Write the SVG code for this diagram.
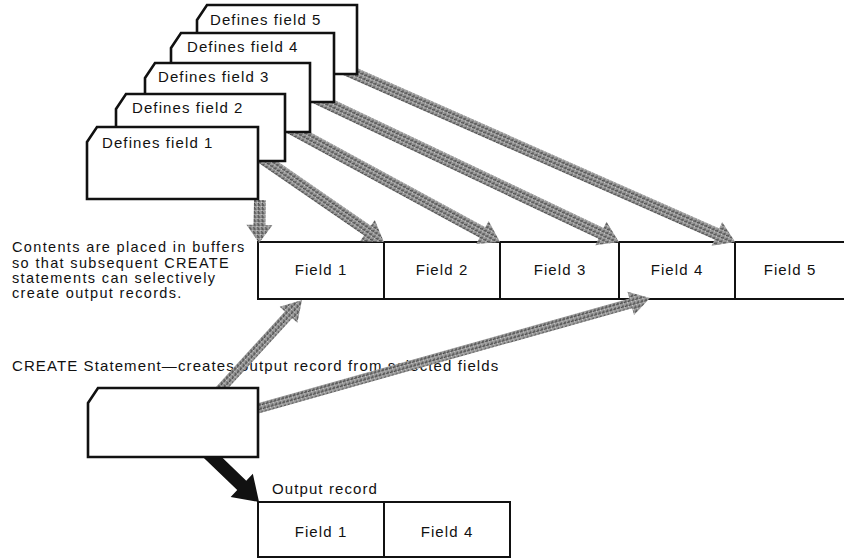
<svg xmlns="http://www.w3.org/2000/svg" width="844" height="558" viewBox="0 0 844 558">
<style>
  text { font-family: "Liberation Sans", Arial, sans-serif; font-size: 15px; fill: #111; letter-spacing: 1.1px; }
  .mid { text-anchor: middle; }
  .para { font-size: 14.5px; letter-spacing: 1.35px; }
  .card { fill: #fff; stroke: #111; stroke-width: 2.6; stroke-linejoin: miter; }
  .box { fill: #fff; stroke: #111; stroke-width: 2; }
  .div { stroke: #111; stroke-width: 2; }
  .gray { fill: url(#ht); }
  .black { fill: #111; }
</style>
<defs>
  <pattern id="ht" width="4" height="4" patternUnits="userSpaceOnUse">
    <rect width="4" height="4" fill="#9c9c9c"/>
    <rect x="0" y="0" width="2" height="2" fill="#5e5e5e"/>
    <rect x="2" y="2" width="1" height="1" fill="#cfcfcf"/>
    <rect x="3" y="1" width="1" height="1" fill="#444"/>
    <rect x="1" y="3" width="1" height="1" fill="#7a7a7a"/>
  </pattern>
</defs>

<rect width="844" height="558" fill="#fff"/>

<g id="buffer">
  <rect class="box" x="258" y="242" width="590" height="57"/>
  <line class="div" x1="384" y1="242" x2="384" y2="299"/>
  <line class="div" x1="500" y1="242" x2="500" y2="299"/>
  <line class="div" x1="619" y1="242" x2="619" y2="299"/>
  <line class="div" x1="735" y1="242" x2="735" y2="299"/>
  <text class="mid" x="321" y="275">Field 1</text>
  <text class="mid" x="442" y="275">Field 2</text>
  <text class="mid" x="560" y="275">Field 3</text>
  <text class="mid" x="677" y="275">Field 4</text>
  <text class="mid" x="790" y="275">Field 5</text>
</g>

<g id="note">
  <text class="para" x="12" y="252">Contents are placed in buffers</text>
  <text class="para" x="12" y="267.5">so that subsequent CREATE</text>
  <text class="para" x="12" y="283">statements can selectively</text>
  <text class="para" x="12" y="298">create output records.</text>
</g>

<g id="create-label">
  <text x="12" y="371">CREATE Statement—creates output record from selected fields</text>
</g>

<g id="output-record">
  <text x="272" y="494">Output record</text>
  <rect class="box" x="258" y="502" width="252" height="55"/>
  <line class="div" x1="384" y1="502" x2="384" y2="557"/>
  <text class="mid" x="321" y="537">Field 1</text>
  <text class="mid" x="447" y="537">Field 4</text>
</g>

<g id="connectors">
  <polygon class="gray" transform="translate(260,200) rotate(91.3)" points="0,-6 25,-6 25,-13 43,0 25,13 25,6 0,6"/>
  <polygon class="gray" transform="translate(262,158) rotate(34.55)" points="0,-6 128,-6 128,-13 148,0 128,13 128,6 0,6"/>
  <polygon class="gray" transform="translate(290,128) rotate(28.5)" points="0,-6 219,-6 219,-13 239,0 219,13 219,6 0,6"/>
  <polygon class="gray" transform="translate(316,98) rotate(25.42)" points="0,-6 315.5,-6 315.5,-13 335.5,0 315.5,13 315.5,6 0,6"/>
  <polygon class="gray" transform="translate(342,68) rotate(23.88)" points="0,-6 410,-6 410,-13 430,0 410,13 410,6 0,6"/>
  <polygon class="gray" transform="translate(218,392) rotate(-47.6)" points="0,-5 104.6,-5 104.6,-12 124.6,0 104.6,12 104.6,5 0,5"/>
  <polygon class="gray" transform="translate(252,410) rotate(-15.72)" points="0,-5 393.5,-5 393.5,-12 413.5,0 393.5,12 393.5,5 0,5"/>
  <polygon class="black" transform="translate(205,450) rotate(43.9)" points="0,-6.5 51,-6.5 51,-16 75,0 51,16 51,6.5 0,6.5"/>
</g>

<g id="card5">
  <path class="card" d="M197,20 L207,5 L357,5 L357,74 L197,74 Z"/>
  <text x="210" y="25">Defines field 5</text>
</g>
<g id="card4">
  <path class="card" d="M171,48 L181,33 L334,33 L334,102 L171,102 Z"/>
  <text x="187" y="52">Defines field 4</text>
</g>
<g id="card3">
  <path class="card" d="M145,78 L155,63 L310,63 L310,132 L145,132 Z"/>
  <text x="158" y="82">Defines field 3</text>
</g>
<g id="card2">
  <path class="card" d="M116,109 L126,94 L285,94 L285,161 L116,161 Z"/>
  <text x="132" y="113">Defines field 2</text>
</g>
<g id="card1">
  <path class="card" d="M87,142 L97,127 L258,127 L258,199 L87,199 Z"/>
  <text x="102" y="148">Defines field 1</text>
</g>

<g id="create-card">
  <path class="card" d="M88,403 L98,388 L258,388 L258,457 L88,457 Z"/>
</g>
</svg>
